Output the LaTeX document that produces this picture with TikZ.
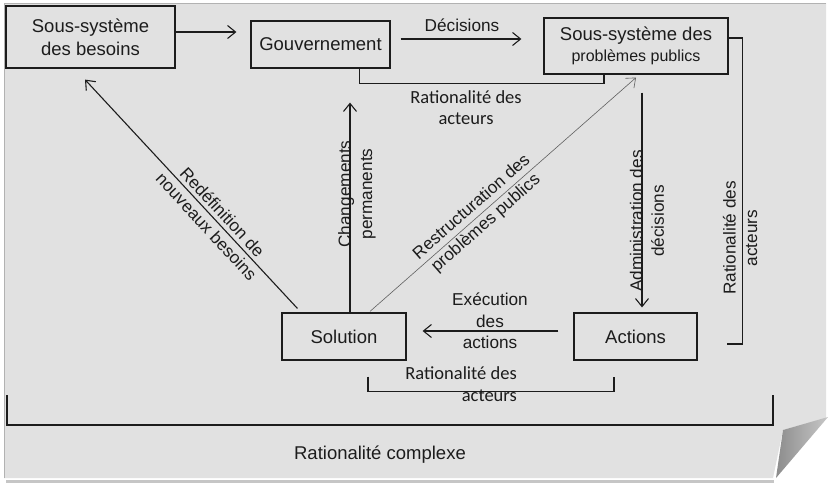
\documentclass[tikz,border=0pt]{standalone}
\usepackage{fontspec}
\setmainfont{Liberation Sans}
\newfontfamily\calibrifont{Carlito}
\usetikzlibrary{arrows.meta,positioning}
\definecolor{paper}{HTML}{E1E1E1}
\definecolor{ink}{HTML}{1C1C1C}
\newcommand{\boxsize}{\fontsize{18.5}{23}\selectfont}
\newcommand{\lblsize}{\fontsize{17.2}{21.5}\selectfont}

\begin{document}
\begin{tikzpicture}
		[x=1pt, y=-1pt, >={Straight Barb[length=8pt,width=13pt]},
		 block/.style    = {draw=ink, shape=rectangle, line width=1.2pt, align=center,
		                    inner sep=0pt, font=\boxsize, text=ink},
		 lbl/.style      = {align=center, inner sep=0pt, font=\lblsize, text=ink},
		 clbl/.style     = {align=center, inner sep=0pt, text=ink,
		                    font=\calibrifont\fontsize{18.5}{21.5}\selectfont},
		 link/.style     = {draw=ink, line width=1.1pt},
		 thinlink/.style = {draw=ink!70, line width=0.6pt},
		]

	\useasboundingbox (0,0) rectangle (828,488);
	% page with folded corner
	\fill[white] (0,0) rectangle (828,488);
	\fill[gray!45] (6,480) -- (774,480) -- (774,483) -- (6,483) -- cycle;
	\fill[paper] (4,3) -- (826,3) -- (826,418) -- (783,430) -- (773,478) -- (4,478) -- cycle;
	\draw[gray!60, line width=1pt] (4,478) -- (4,3) -- (826,3);
	\shade[left color=black!45, right color=black!22] (783,430) -- (828,417) -- (776,478) -- cycle;

	\node [block, minimum width=169pt, minimum height=62pt] (besoins)  at (90.5,37)   {Sous-système\\des besoins};
	\node [block, minimum width=139pt, minimum height=47pt] (gouv)     at (320.5,44.5) {Gouvernement};
	\node [block, minimum width=184pt, minimum height=56pt] (probs)    at (636,46)    {Sous-système des\\[-2pt]{\fontsize{16}{19}\selectfont problèmes publics}};
	\node [block, minimum width=124pt, minimum height=47pt] (solution) at (344,336.5)  {Solution};
	\node [block, minimum width=123pt, minimum height=47pt] (actions)  at (635.5,336.5) {Actions};

	\draw[link, ->, shorten >=14pt] ([yshift=5pt]besoins.east) -- ([yshift=5pt]besoins.east -| gouv.west);
	\draw[link, ->, shorten <=10pt, shorten >=22pt] ([yshift=5.5pt]gouv.east) -- ([yshift=5.5pt]gouv.east -| probs.west);
	\node[lbl] (dec) at (462,25) {Décisions};

	% rationalite des acteurs (haut)
	\draw[link] ([xshift=-31pt]gouv.south east) -- ++(0,15) -| ([xshift=-32pt]probs.south);
	\node[clbl] (rathaut) at (466,107.5) {Rationalité des\\acteurs};

	% rationalite des acteurs (droite)
	\coordinate (rbend) at (727,344);
	\draw[link] ([yshift=8pt]probs.east) -- ++(14,0) |- (rbend);
	\node[lbl, rotate=90] (ratdroite) at (740,238) {Rationalité des\\acteurs};

	\draw[link, ->, shorten <=18pt, shorten >=5pt] ([xshift=6pt]probs.south) -- ([xshift=6pt]probs.south |- actions.north);
	\node[lbl, rotate=90] (admin) at (647,221) {Administration des\\décisions};

	\draw[link, ->, shorten >=34pt] ([xshift=6pt]solution.north) -- ([xshift=6pt]solution.north |- gouv.south);
	\node[lbl, rotate=90] (chg) at (357,194) {Changements\\permanents};

	\draw[link, ->] ([shift={(16pt,4pt)}]solution.north west) -- ([shift={(-5.5pt,-11pt)}]besoins.south)
		node[lbl, sloped, pos=0.39] (redef) {Redéfinition de\\nouveaux besoins};

	\draw[thinlink, ->] ([shift={(26pt,1pt)}]solution.north) -- ([yshift=-3pt]probs.south)
		node[lbl, sloped, pos=0.41] (restr) {Restructuration des\\problèmes publics};

	\draw[link, ->, shorten <=15pt, shorten >=16pt] ([yshift=5.5pt]actions.west) -- ([yshift=5.5pt]actions.west -| solution.east);
	\node[lbl] (exec) at (490,321) {Exécution\\des\\actions};

	% rationalite des acteurs (bas)
	\draw[link] ([shift={(24pt,-16pt)}]solution.south) -- ++(0,15) -| ([shift={(-21.5pt,-16pt)}]actions.south);
	\node[clbl, align=right, anchor=east] (ratbas) at (517,384) {Rationalité des\\acteurs};

	% rationalite complexe
	\draw[link] (7,395) -- (7,425) -- (773,425) -- (773,395);
	\node[lbl, font=\boxsize] (cplx) at (380,455) {Rationalité complexe};

\end{tikzpicture}
\end{document}
